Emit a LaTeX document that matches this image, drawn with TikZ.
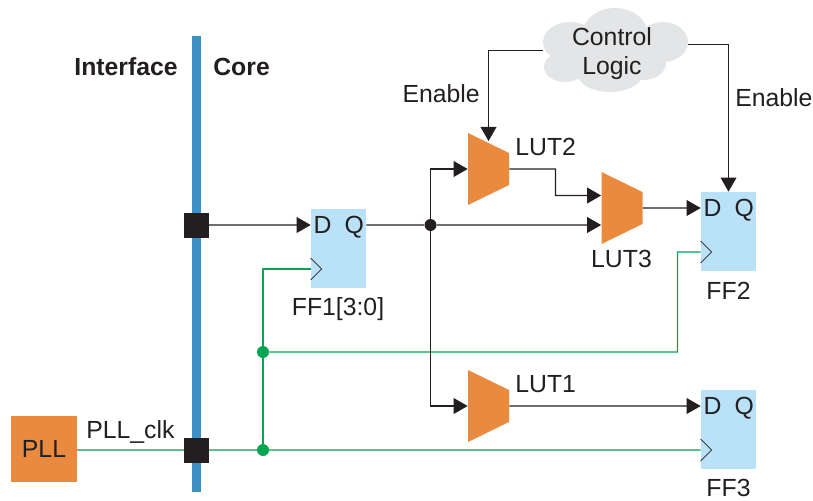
\documentclass[tikz,border=0pt]{standalone}
\usepackage{fontspec}
\setmainfont{Liberation Sans}
\usetikzlibrary{arrows.meta}
\definecolor{ink}{HTML}{231F20}
\definecolor{busblue}{HTML}{3D8FC4}
\definecolor{lutorange}{HTML}{EA8A3F}
\definecolor{ffblue}{HTML}{B9E2F9}
\definecolor{clkgreen}{HTML}{00A651}
\definecolor{cloudgray}{HTML}{E3E5E6}
\tikzset{
	lbl/.style={font=\fontsize{14.1}{17}\selectfont, text=ink, inner sep=0pt},
	head/.style={font=\fontsize{14.1}{17}\selectfont\bfseries, text=ink, inner sep=0pt},
	wire/.style={ink, line width=0.7pt, -{Triangle[length=8pt,width=9pt]}},
	plainwire/.style={ink, line width=0.7pt},
	clkwire/.style={clkgreen, line width=0.7pt},
	ffbox/.style={fill=ffblue, minimum width=1.1cm, minimum height=1.58cm, inner sep=0pt},
	lutbox/.style={minimum width=0.82cm, minimum height=1.44cm, inner sep=0pt,
		path picture={\fill[lutorange] (path picture bounding box.north west)
			-- ([yshift=-0.4cm]path picture bounding box.north east)
			-- ([yshift=0.4cm]path picture bounding box.south east)
			-- (path picture bounding box.south west) -- cycle;}},
	padbox/.style={fill=ink, minimum size=0.5cm, inner sep=0pt},
	dotblack/.style={circle, fill=ink, minimum size=0.24cm, inner sep=0pt},
	dotgreen/.style={circle, fill=clkgreen, minimum size=0.24cm, inner sep=0pt}
}
\begin{document}
\begin{tikzpicture}[x=0.02cm, y=-0.02cm]
	\useasboundingbox (0,0) rectangle (813,500);

	% bus between interface and core
	\fill[busblue] (192,36) rectangle (200.5,492);
	\node[head, anchor=east] (iface) at (178,67) {Interface};
	\node[head, anchor=west] (core) at (213,67) {Core};

	% control logic cloud
	\fill[cloudgray] (615,35) ellipse (33 and 27);
	\fill[cloudgray] (570,42) ellipse (27 and 20);
	\fill[cloudgray] (663,42) ellipse (25 and 20);
	\fill[cloudgray] (565,67) ellipse (21 and 15);
	\fill[cloudgray] (610,73) ellipse (33 and 19);
	\fill[cloudgray] (643,63) ellipse (23 and 17);
	\fill[cloudgray] (570,35) rectangle (660,70);
	\node[lbl, align=center] (ctrl) at (612,37) {Control};
	\node[lbl, align=center] (logic) at (612,68) {Logic};
	\coordinate (cloudl) at (543,50.5);
	\coordinate (cloudr) at (688,44.5);

	% flip-flops, D/Q/clock taken from each box
	\foreach \ff/\px/\py in {ff1/338.5/248.5, ff2/728.5/231.5, ff3/728.5/429.5} {
		\node[ffbox] (\ff) at (\px,\py) {};
		\coordinate (\ff d) at ([yshift=0.47cm]\ff.west);
		\coordinate (\ff q) at ([yshift=0.47cm]\ff.east);
		\coordinate (\ff clk) at ([yshift=-0.41cm]\ff.west);
		\node[lbl, anchor=base] (\ff dl) at ([xshift=0.24cm,yshift=-0.16cm]\ff d) {D};
		\node[lbl, anchor=base] (\ff ql) at ([xshift=-0.24cm,yshift=-0.16cm]\ff q) {Q};
	}

	% look-up tables
	\node[lutbox] (lut2) at (488.5,169) {};
	\node[lutbox] (lut3) at (622,208) {};
	\node[lutbox] (lut1) at (488.5,406) {};
	\coordinate (lut3a) at ([yshift=0.25cm]lut3.west);
	\coordinate (lut3b) at ([yshift=-0.34cm]lut3.west);

	% pads and PLL
	\node[fill=lutorange, lbl, minimum size=1.32cm] (pll) at (44,449) {PLL};
	\coordinate (pllout) at (77,450);

	% clock network
	\node[dotgreen] (clka) at (263,352) {};
	\node[dotgreen] (clkb) at (263,450) {};
	\draw[clkwire] (pllout) -- (ff3clk);
	\draw[clkwire] (clkb) -- (clka) |- (ff1clk);
	\draw[clkwire] (clka) -| (677.5,252) -- (ff2clk);

	% pads on the bus
	\node[padbox] (pad1) at (196,225) {};
	\node[padbox] (pad2) at (196,450) {};

	% clock marks
	\foreach \ff in {ff1,ff2,ff3}
		\draw[ink, line width=0.4pt] ([yshift=0.22cm]\ff clk) -- ([xshift=0.22cm]\ff clk) -- ([yshift=-0.22cm]\ff clk);

	% data paths
	\node[dotblack] (junc) at (430.5,225) {};
	\draw[wire] (pad1) -- (ff1d);
	\draw[plainwire] (ff1q) -- (junc);
	\draw[wire] (junc) -- (lut3b);
	\draw[wire] (junc) |- (lut2.west);
	\draw[wire] (junc) |- (lut1.west);
	\draw[wire] (lut2.east) -| (555.5,195.5) -- (lut3a);
	\draw[wire] (lut3.east) -- (ff2d);
	\draw[wire] (lut1.east) -- (ff3d);

	% enables
	\draw[wire] (cloudl) -| (488.5,141);
	\draw[wire] (cloudr) -| (ff2.north);

	% labels
	\node[lbl, anchor=east] (en1) at (480,94) {Enable};
	\node[lbl, anchor=west] (en2) at (735,98) {Enable};
	\node[lbl, anchor=west] (lut2l) at (515,147) {LUT2};
	\node[lbl] (lut3l) at (621.5,259) {LUT3};
	\node[lbl, anchor=west] (lut1l) at (515,384) {LUT1};
	\node[lbl] (ff1l) at (338,309) {FF1[3:0]};
	\node[lbl] (ff2l) at (728.5,291) {FF2};
	\node[lbl] (ff3l) at (728.5,488) {FF3};
	\node[lbl, anchor=west] (clkl) at (86,432) {PLL\_clk};
\end{tikzpicture}
\end{document}
